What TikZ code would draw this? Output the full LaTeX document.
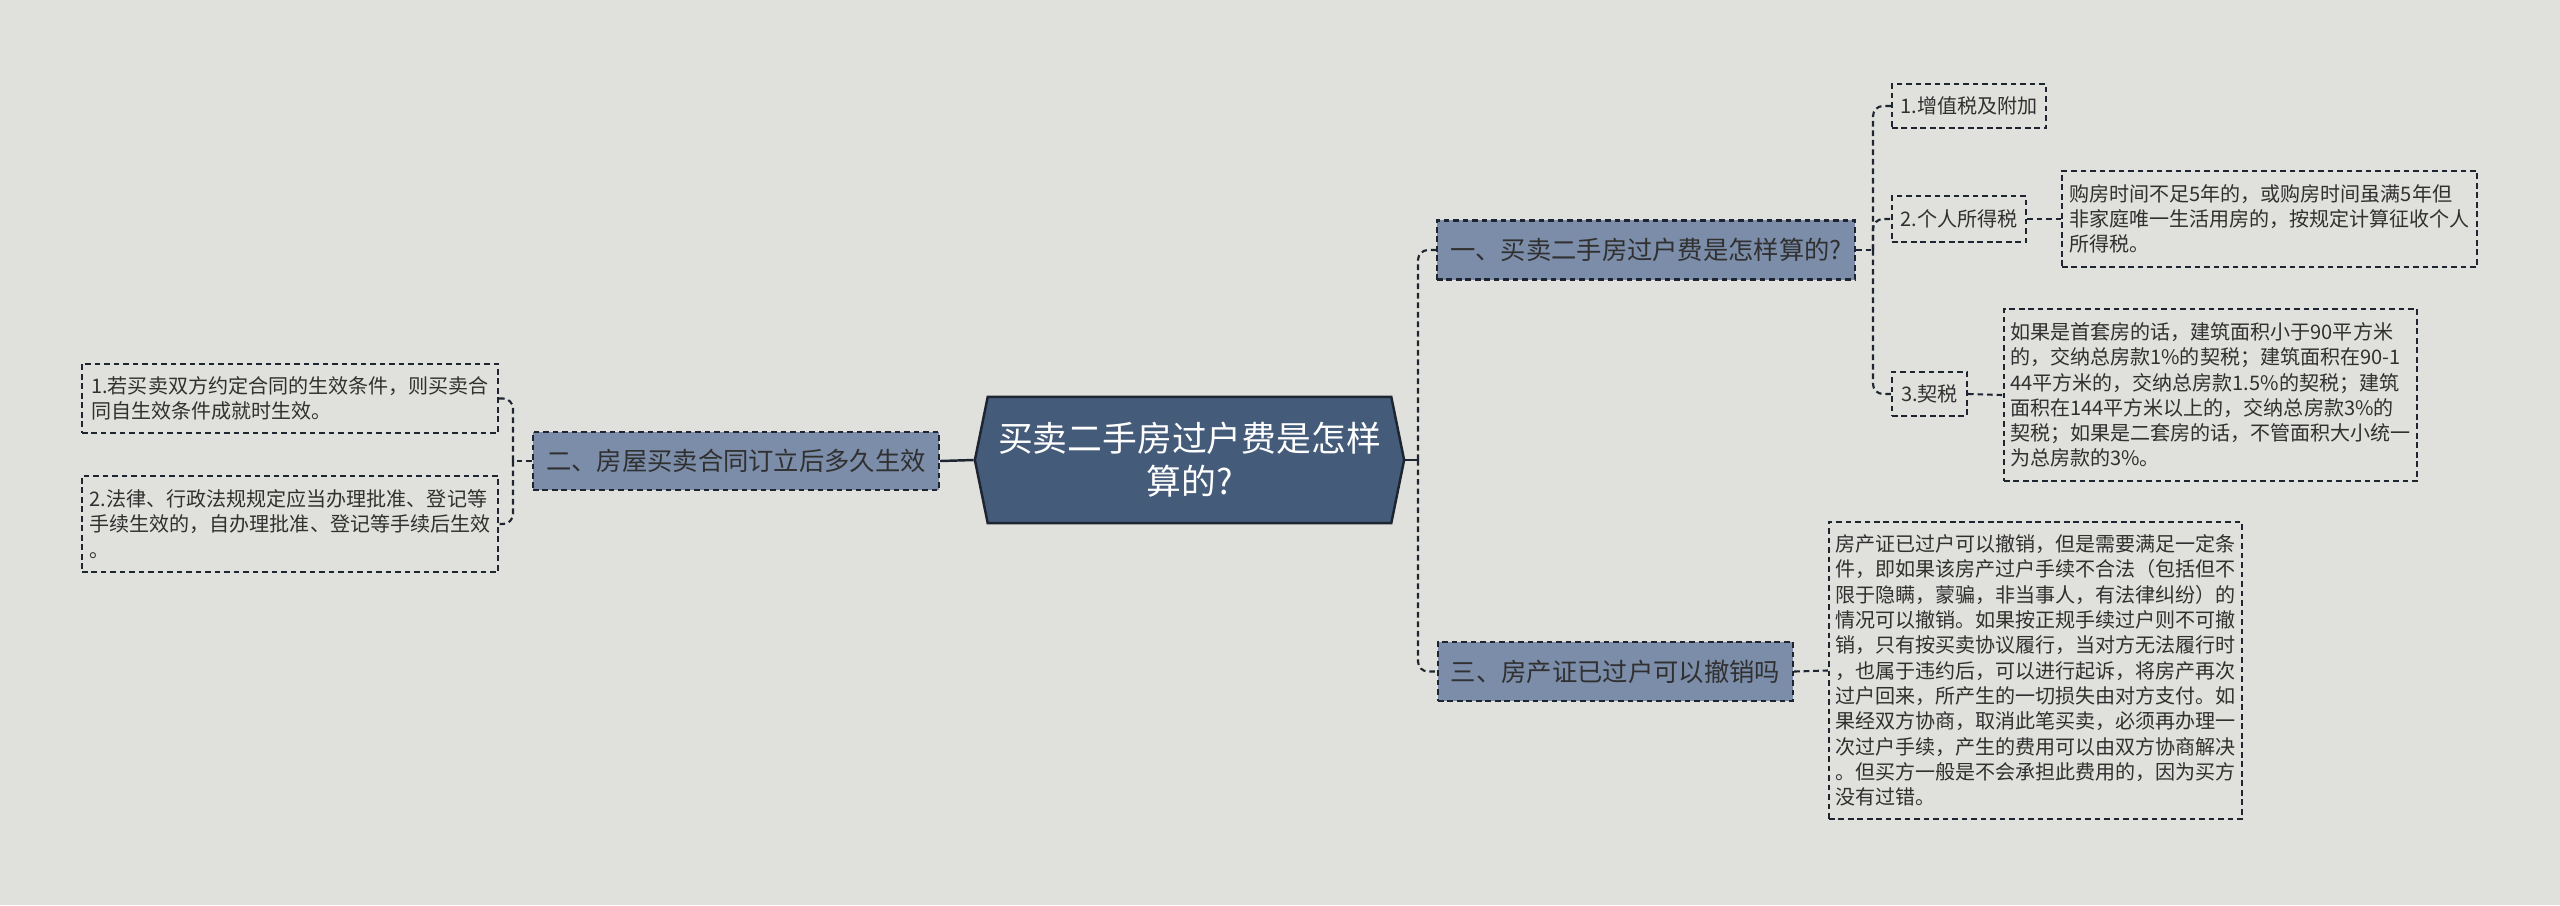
\documentclass[tikz,border=0pt]{standalone}
\usepackage{fontspec}
\setmainfont{Noto Sans CJK SC}
\usetikzlibrary{shapes.symbols}
\definecolor{bgcol}{HTML}{E0E1DC}
\definecolor{rootcol}{HTML}{445B7A}
\definecolor{branchcol}{HTML}{7B8DA9}
\definecolor{linecol}{HTML}{1E2430}
\definecolor{txtcol}{HTML}{303030}
\tikzset{
  dashline/.style={draw=linecol, line width=0.6pt, dash pattern=on 1.6pt off 1.1pt},
  link/.style={dashline, rounded corners=1mm},
  rootnode/.style={signal, signal to=east and west, signal pointer angle=157,
    draw=linecol, line width=0.7pt, fill=rootcol, text=white, inner sep=0pt,
    align=center, font=\fontsize{9.9pt}{12.3pt}\selectfont},
  branchnode/.style={dashline, fill=branchcol, text=txtcol, inner sep=0pt,
    align=center, font=\fontsize{7.2pt}{8.6pt}\selectfont},
  leafnode/.style={dashline, text=txtcol, inner sep=0pt, align=left,
    font=\fontsize{5.7pt}{7.2pt}\selectfont},
}
\begin{document}
\begin{tikzpicture}[x=0.01cm, y=-0.01cm]
  % background
  \fill[bgcol] (0,0) rectangle (2560,905);
  \useasboundingbox (0,0) rectangle (2560,905);

  % Drawing root
  \node[rootnode, minimum width=4.29cm, minimum height=1.26cm] (root) at (1189.5,460)
    {买卖二手房过户费是怎样\\算的?};

  % Drawing branch 二 and its leaves
  \node[branchnode, minimum width=4.06cm, minimum height=0.58cm] (b2) at (736,461)
    {二、房屋买卖合同订立后多久生效};
  \node[leafnode, minimum width=4.16cm, minimum height=0.69cm] (l1) at (290,398.5)
    {1.若买卖双方约定合同的生效条件，则买卖合\\同自生效条件成就时生效。};
  \node[leafnode, minimum width=4.16cm, minimum height=0.96cm] (l2) at (290,524)
    {2.法律、行政法规规定应当办理批准、登记等\\手续生效的，自办理批准、登记等手续后生效\\。};

  % Drawing branch 一 and its leaves
  \node[branchnode, minimum width=4.18cm, minimum height=0.59cm] (b1) at (1646,250)
    {一、买卖二手房过户费是怎样算的?};
  \node[leafnode, minimum width=1.54cm, minimum height=0.44cm, align=center] (s1) at (1969,106)
    {1.增值税及附加};
  \node[leafnode, minimum width=1.34cm, minimum height=0.46cm, align=center] (s2) at (1959,219)
    {2.个人所得税};
  \node[leafnode, minimum width=0.75cm, minimum height=0.44cm, align=center] (s3) at (1929.5,394)
    {3.契税};
  \node[leafnode, minimum width=4.15cm, minimum height=0.96cm] (d2) at (2269.5,219)
    {购房时间不足5年的，或购房时间虽满5年但\\非家庭唯一生活用房的，按规定计算征收个人\\所得税。};
  \node[leafnode, minimum width=4.13cm, minimum height=1.72cm] (d3) at (2210.5,395)
    {如果是首套房的话，建筑面积小于90平方米\\的，交纳总房款1\%的契税；建筑面积在90-1\\44平方米的，交纳总房款1.5\%的契税；建筑\\面积在144平方米以上的，交纳总房款3\%的\\契税；如果是二套房的话，不管面积大小统一\\为总房款的3\%。};

  % Drawing branch 三 and its leaf
  \node[branchnode, minimum width=3.55cm, minimum height=0.59cm] (b3) at (1615.5,671.5)
    {三、房产证已过户可以撤销吗};
  \node[leafnode, minimum width=4.13cm, minimum height=2.97cm] (d4) at (2035.5,670.5)
    {房产证已过户可以撤销，但是需要满足一定条\\件，即如果该房产过户手续不合法（包括但不\\限于隐瞒，蒙骗，非当事人，有法律纠纷）的\\情况可以撤销。如果按正规手续过户则不可撤\\销，只有按买卖协议履行，当对方无法履行时\\，也属于违约后，可以进行起诉，将房产再次\\过户回来，所产生的一切损失由对方支付。如\\果经双方协商，取消此笔买卖，必须再办理一\\次过户手续，产生的费用可以由双方协商解决\\。但买方一般是不会承担此费用的，因为买方\\没有过错。};

  % Junctions
  \coordinate (lj) at (513,461);
  \coordinate (rj) at (1418,460);
  \coordinate (sj) at (1873,250);

  % Drawing links left
  \draw[draw=linecol, line width=0.7pt] (root.west) -- (b2.east);
  \draw[link] (b2.west) -- (lj);
  \draw[link] (lj) |- (l1.east);
  \draw[link] (lj) |- (l2.east);

  % Drawing links right
  \draw[draw=linecol, line width=0.7pt] (root.east) -- (rj);
  \draw[link] (rj) |- (b1.west);
  \draw[link] (rj) |- (b3.west);
  \draw[link] (b1.east) -- (sj);
  \draw[link] (sj) |- (s1.west);
  \draw[link] (sj) |- (s2.west);
  \draw[link] (sj) |- (s3.west);
  \draw[link] (s2.east) -- (d2.west);
  \draw[link] (s3.east) -- (d3.west);
  \draw[link] (b3.east) -- (d4.west);
\end{tikzpicture}
\end{document}
